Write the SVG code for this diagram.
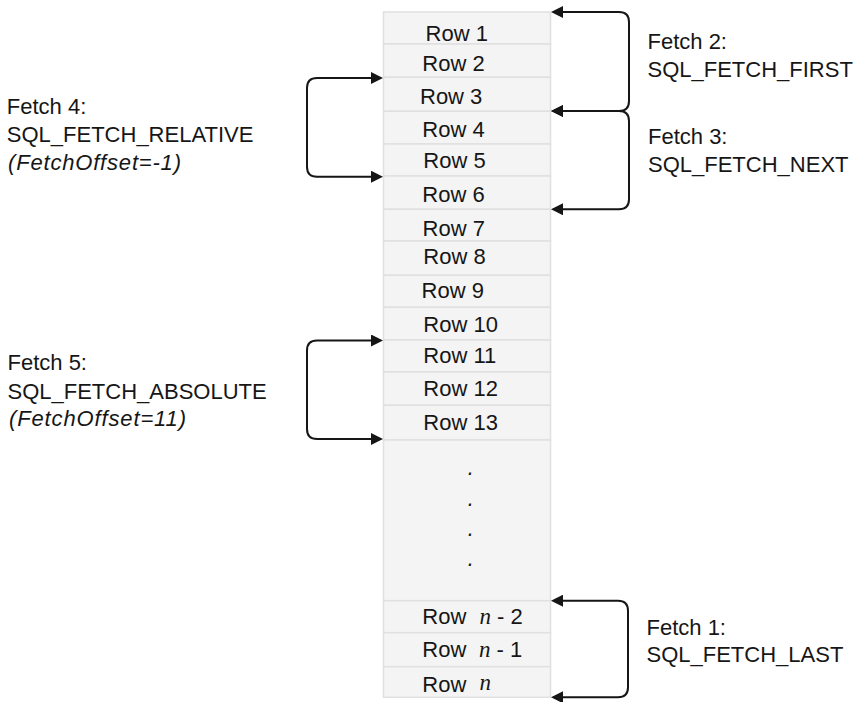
<svg xmlns="http://www.w3.org/2000/svg" width="856" height="702" viewBox="0 0 856 702">
  <style>
    .row { fill: #f4f4f4; stroke: #e0e0e0; stroke-width: 1.5; }
    .t { font-family: "Liberation Sans", Arial, sans-serif; font-size: 22px; fill: #161616; }
    .it { font-style: italic; }
    .nn { font-family: "Liberation Serif", "Times New Roman", serif; font-style: italic; font-size: 23px; }
    .conn { fill: none; stroke: #161616; stroke-width: 2; }
  </style>
  <defs>
    <marker id="ah" viewBox="0 0 12 12" refX="8" refY="6" markerWidth="12" markerHeight="12" markerUnits="userSpaceOnUse" orient="auto-start-reverse">
      <path d="M0,0 L12,6 L0,12 z" fill="#161616"/>
    </marker>
  </defs>
  <rect width="856" height="702" fill="#ffffff"/>

  <g id="rows">
    <g id="row1"><rect class="row" x="383.5" y="12" width="167" height="32"/><text class="t" x="425.6" y="40.7">Row 1</text></g>
    <g id="row2"><rect class="row" x="383.5" y="44" width="167" height="33.3"/><text class="t" x="422.3" y="70.7">Row 2</text></g>
    <g id="row3"><rect class="row" x="383.5" y="77.3" width="167" height="34"/><text class="t" x="420" y="104">Row 3</text></g>
    <g id="row4"><rect class="row" x="383.5" y="111.3" width="167" height="32.7"/><text class="t" x="422.3" y="137.3">Row 4</text></g>
    <g id="row5"><rect class="row" x="383.5" y="144" width="167" height="32"/><text class="t" x="423.3" y="168.3">Row 5</text></g>
    <g id="row6"><rect class="row" x="383.5" y="176" width="167" height="33.3"/><text class="t" x="422.3" y="201.7">Row 6</text></g>
    <g id="row7"><rect class="row" x="383.5" y="209.3" width="167" height="31.7"/><text class="t" x="422.6" y="236">Row 7</text></g>
    <g id="row8"><rect class="row" x="383.5" y="241" width="167" height="34.3"/><text class="t" x="423.3" y="264.3">Row 8</text></g>
    <g id="row9"><rect class="row" x="383.5" y="275.3" width="167" height="32"/><text class="t" x="421.6" y="298.3">Row 9</text></g>
    <g id="row10"><rect class="row" x="383.5" y="307.3" width="167" height="32.7"/><text class="t" x="423.3" y="332">Row 10</text></g>
    <g id="row11"><rect class="row" x="383.5" y="340" width="167" height="32"/><text class="t" x="423.3" y="363.3">Row 11</text></g>
    <g id="row12"><rect class="row" x="383.5" y="372" width="167" height="33.3"/><text class="t" x="423.3" y="396">Row 12</text></g>
    <g id="row13"><rect class="row" x="383.5" y="405.3" width="167" height="34.7"/><text class="t" x="423.3" y="430">Row 13</text></g>
    <g id="rowgap"><rect class="row" x="383.5" y="440" width="167" height="160.7"/>
      <text class="t it" x="470.7" y="475.4" text-anchor="middle">.</text>
      <text class="t it" x="470.7" y="505.8" text-anchor="middle">.</text>
      <text class="t it" x="470.7" y="535.8" text-anchor="middle">.</text>
      <text class="t it" x="470.7" y="565.8" text-anchor="middle">.</text>
    </g>
    <g id="rown2"><rect class="row" x="383.5" y="600.7" width="167" height="32"/><text class="t" x="422.3" y="624">Row <tspan class="nn" x="479.5">n</tspan><tspan x="497">- 2</tspan></text></g>
    <g id="rown1"><rect class="row" x="383.5" y="632.7" width="167" height="34"/><text class="t" x="422.3" y="657.3">Row <tspan class="nn" x="479">n</tspan><tspan x="496.5">- 1</tspan></text></g>
    <g id="rown"><rect class="row" x="383.5" y="666.7" width="167" height="30.6"/><text class="t" x="422.3" y="692">Row <tspan class="nn" x="479.5" dy="-2">n</tspan></text></g>
  </g>

  <g id="connectors">
    <path id="c-fetch2" class="conn" marker-start="url(#ah)" marker-end="url(#ah)" d="M555,12 H619 Q629,12 629,22 V101 Q629,111 619,111 H555"/>
    <path id="c-fetch3" class="conn" marker-start="url(#ah)" marker-end="url(#ah)" d="M555,111 H619 Q629,111 629,121 V199.3 Q629,209.3 619,209.3 H555"/>
    <path id="c-fetch1" class="conn" marker-start="url(#ah)" marker-end="url(#ah)" d="M555,600.7 H618 Q628,600.7 628,610.7 V687.3 Q628,697.3 618,697.3 H555"/>
    <path id="c-fetch4" class="conn" marker-start="url(#ah)" marker-end="url(#ah)" d="M379,78 H317 Q307,78 307,88 V166.7 Q307,176.7 317,176.7 H379"/>
    <path id="c-fetch5" class="conn" marker-start="url(#ah)" marker-end="url(#ah)" d="M379,340.5 H317 Q307,340.5 307,350.5 V429 Q307,439 317,439 H379"/>
  </g>

  <g id="label-fetch2">
    <text class="t" x="647.5" y="49.3">Fetch 2:</text>
    <text class="t" x="647.5" y="76.7">SQL_FETCH_FIRST</text>
  </g>
  <g id="label-fetch3">
    <text class="t" x="648" y="144">Fetch 3:</text>
    <text class="t" x="648" y="171.7">SQL_FETCH_NEXT</text>
  </g>
  <g id="label-fetch1">
    <text class="t" x="646.5" y="635">Fetch 1:</text>
    <text class="t" x="646.5" y="661.7">SQL_FETCH_LAST</text>
  </g>
  <g id="label-fetch4">
    <text class="t" x="6.8" y="114.3">Fetch 4:</text>
    <text class="t" x="6.8" y="141.7">SQL_FETCH_RELATIVE</text>
    <text class="t it" x="8" y="169.5" textLength="173" lengthAdjust="spacing">(FetchOffset=-1)</text>
  </g>
  <g id="label-fetch5">
    <text class="t" x="7.5" y="370">Fetch 5:</text>
    <text class="t" x="7.5" y="399.3">SQL_FETCH_ABSOLUTE</text>
    <text class="t it" x="9" y="426" textLength="177" lengthAdjust="spacing">(FetchOffset=11)</text>
  </g>
</svg>
